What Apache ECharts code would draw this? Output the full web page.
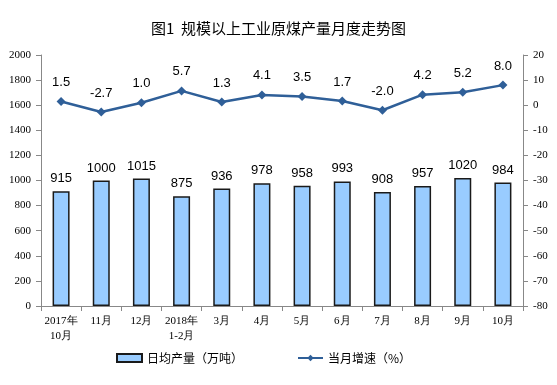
<!DOCTYPE html>
<html><head><meta charset="utf-8">
<script src="https://cdn.jsdelivr.net/npm/echarts@6/dist/echarts.min.js"></script>
<style>html,body{margin:0;padding:0;background:#fff}#c{width:557px;height:385px}</style>
</head><body><div id="c"></div>
<script>
const categories = ['2017年\n10月','11月','12月','2018年\n1-2月','3月','4月','5月','6月','7月','8月','9月','10月'];
const output = [915,1000,1015,875,936,978,958,993,908,957,1020,984];
const growth = [1.5,-2.7,1.0,5.7,1.3,4.1,3.5,1.7,-2.0,4.2,5.2,8.0];
const chart = echarts.init(document.getElementById('c'));
const serif = '"Liberation Serif","DejaVu Serif",serif';
const cjk = '"Noto Sans CJK SC",sans-serif';
const sans = '"Liberation Sans",Arial,sans-serif';
chart.setOption({
  backgroundColor:'#fff',
  animation:false,
  title:{text:'图1  规模以上工业原煤产量月度走势图',left:'center',top:16,textStyle:{fontFamily:cjk,fontSize:15,fontWeight:'normal',color:'#000'}},
  grid:{left:41,right:34,top:55,bottom:79},
  legend:{bottom:16,left:111,itemGap:54,itemWidth:25,itemHeight:8,textStyle:{fontFamily:cjk,fontSize:12,color:'#000'},
    data:[{name:'日均产量（万吨）',icon:'rect'},{name:'当月增速（%）'}]},
  xAxis:{type:'category',data:categories,
    axisLine:{lineStyle:{color:'#888'}},axisTick:{show:true,alignWithLabel:false,lineStyle:{color:'#888'}},
    axisLabel:{fontFamily:serif,fontSize:11,color:'#000',interval:0,margin:8,lineHeight:15}},
  yAxis:[
    {type:'value',min:0,max:2000,interval:200,splitLine:{show:false},
     axisLine:{show:true,lineStyle:{color:'#888'}},axisTick:{show:true,lineStyle:{color:'#888'}},
     axisLabel:{fontFamily:serif,fontSize:11,color:'#000',margin:10,formatter:v=>String(v)}},
    {type:'value',min:-80,max:20,interval:10,splitLine:{show:false},
     axisLine:{show:true,lineStyle:{color:'#888'}},axisTick:{show:true,lineStyle:{color:'#888'}},
     axisLabel:{fontFamily:serif,fontSize:11,color:'#000',margin:10}}
  ],
  series:[
    {name:'日均产量（万吨）',type:'bar',data:output,barWidth:17,yAxisIndex:0,
     itemStyle:{color:'#99CCFF',borderColor:'#1a1a1a',borderWidth:1.5},
     label:{show:true,position:'top',distance:6,fontFamily:sans,fontSize:13,color:'#000'}},
    {name:'当月增速（%）',type:'line',data:growth,yAxisIndex:1,symbol:'diamond',symbolSize:9,
     lineStyle:{color:'#2F5F98',width:2.5},itemStyle:{color:'#2F5F98'},
     label:{show:true,position:'top',distance:8,fontFamily:sans,fontSize:13,color:'#000',
       formatter:p=>p.value.toFixed(1)}}
  ]
});
</script></body></html>
